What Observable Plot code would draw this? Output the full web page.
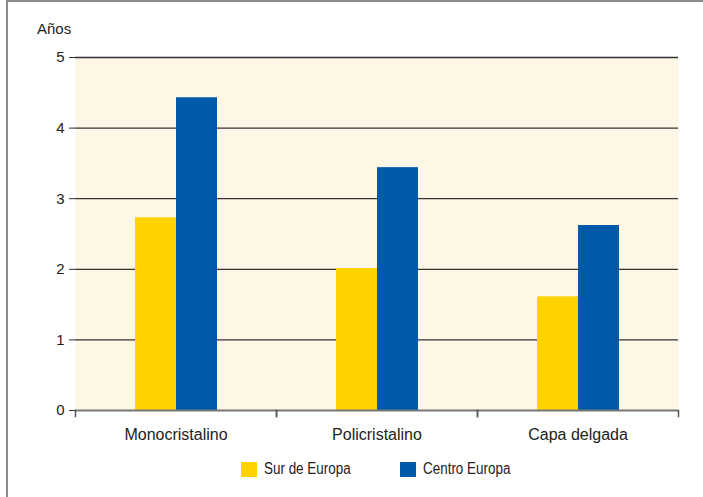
<!DOCTYPE html>
<html>
<head>
<meta charset="utf-8">
<script src="https://cdn.jsdelivr.net/npm/d3@7"></script>
<script src="https://cdn.jsdelivr.net/npm/@observablehq/plot@0.6"></script>
<style>
  html, body { margin: 0; padding: 0; background: #fff; }
  body { width: 703px; height: 497px; position: relative; overflow: hidden; font-family: "Liberation Sans", Arial, sans-serif; color: #222; }
  #border { position: absolute; left: 6px; top: 0; width: 800px; height: 600px; border-top: 2px solid #8c8c8c; border-left: 2px solid #8c8c8c; pointer-events: none; }
  #ylabel { height: 20px; padding-top: 20px; padding-left: 37px; font-size: 15px; line-height: 17px; }
  #legend { position: relative; height: 40px; font-family: "Liberation Sans", Arial, sans-serif; font-size: 16px; }
  .item { position: absolute; top: 8px; display: flex; align-items: center; }
  .sw { width: 16px; height: 15px; margin-right: 7px; flex: none; }
  .lt { display: inline-block; transform: scaleX(0.84); transform-origin: left center; white-space: nowrap; }
</style>
</head>
<body>
<div id="ylabel">Años</div>
<div id="chart"></div>
<div id="legend"></div>
<div id="border"></div>
<script>
const categories = ["Monocristalino", "Policristalino", "Capa delgada"];
const series = ["Sur de Europa", "Centro Europa"];
const surValues = [2.73, 2.01, 1.61];
const centroValues = [4.43, 3.44, 2.62];
const yTicks = [0, 1, 2, 3, 4, 5];
const colors = ["#ffd200", "#005aa9"];

const data = categories.flatMap((c, i) => [
  {cat: c, serie: series[0], value: surValues[i]},
  {cat: c, serie: series[1], value: centroValues[i]}
]);

const W = 703, H = 412, mt = 17, mb = 42, ml = 74, mr = 24;
const frameH = H - mt - mb;

const chart = Plot.plot({
  width: W, height: H,
  marginTop: mt, marginBottom: mb, marginLeft: ml, marginRight: mr,
  style: {fontFamily: '"Liberation Sans", Arial, sans-serif', fontSize: "15px", color: "#222", background: "transparent", overflow: "visible"},
  fx: {domain: categories, padding: 0, label: null},
  x: {domain: series, paddingInner: 0, paddingOuter: 1.43, axis: null},
  y: {domain: [0, 5], label: null},
  color: {domain: series, range: colors},
  marks: [
    Plot.frame({fill: "#fff7e5", stroke: null}),
    Plot.ruleY(yTicks.slice(1), {stroke: "#333", strokeWidth: 1.3}),
    Plot.barY(data, {fx: "cat", x: "serie", y: "value", fill: "serie"}),
    Plot.ruleY([0], {stroke: "#777", strokeWidth: 2}),
    Plot.frame({anchor: "left", insetTop: frameH, insetBottom: -6, stroke: "#555", strokeWidth: 1.5}),
    Plot.frame({anchor: "right", insetTop: frameH, insetBottom: -6, stroke: "#555", strokeWidth: 1.5}),
    Plot.axisY({ticks: yTicks, tickSize: 6, tickPadding: 5, tickFormat: d => String(d), label: null, stroke: "#333"}),
    Plot.axisFx({anchor: "bottom", tickSize: 0, tickPadding: 18, label: null, fontSize: 16})
  ]
});
document.getElementById("chart").appendChild(chart);

const legend = document.getElementById("legend");
const lefts = [241, 400];
series.forEach((s, i) => {
  const it = document.createElement("div");
  it.className = "item";
  it.style.left = lefts[i] + "px";
  it.innerHTML = `<div class="sw" style="background:${colors[i]}"></div><span class="lt">${s}</span>`;
  legend.appendChild(it);
});
</script>
</body>
</html>
